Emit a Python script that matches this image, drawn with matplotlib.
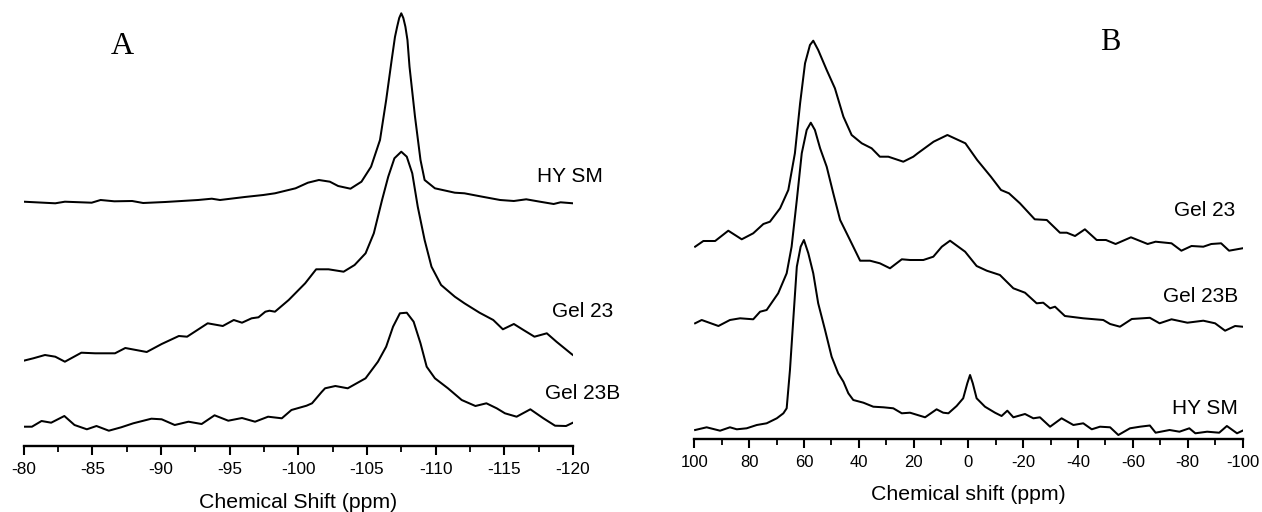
import matplotlib
matplotlib.use("Agg")
import matplotlib.pyplot as plt
from matplotlib.ticker import MultipleLocator

# ---------------- Panel A data (29Si, ppm vs intensity, arbitrary units) ----------------
a_hysm_ppm = [-80.0, -82.3, -83.0, -84.95, -85.6, -86.6, -87.9, -88.7, -90.3, -92.7, -93.7, -94.3,
              -96.1, -97.45, -98.3, -99.8, -100.7, -101.5, -102.3, -102.9, -103.8, -104.6, -105.3,
              -105.95, -106.4, -106.8, -107.04, -107.2, -107.35, -107.5, -107.65, -107.8, -107.95,
              -108.1, -108.5, -108.9, -109.2, -109.95, -111.4, -112.1, -113.4, -114.7, -115.7,
              -116.6, -117.6, -118.6, -119.1, -120.0]
a_hysm_int = [0.3, -1.3, 0.3, -0.7, 2.0, 0.7, 1.0, -1.0, 0.0, 2.0, 3.3, 2.0,
              5.0, 7.0, 8.7, 13.7, 19.3, 22.0, 20.3, 16.0, 13.3, 20.3, 35.3,
              62.0, 102.0, 142.0, 165.0, 175.3, 184.0, 188.7, 184.0, 175.3, 162.0,
              135.3, 85.3, 42.0, 22.0, 13.7, 9.3, 8.7, 5.3, 2.0, 1.0,
              2.7, 0.3, -2.0, -0.3, -1.3]

a_gel23_ppm = [-80.0, -80.7, -81.55, -82.3, -83.0, -84.2, -85.2, -86.65, -87.4, -88.96, -90.05,
               -91.3, -91.9, -93.4, -94.5, -95.3, -95.9, -96.6, -97.1, -97.6, -97.9, -98.3, -99.3,
               -100.5, -101.3, -102.2, -103.3, -104.1, -104.9, -105.5, -106.1, -106.55, -107.0,
               -107.5, -107.9, -108.3, -108.7, -109.2, -109.7, -110.4, -111.4, -112.1, -113.2,
               -114.2, -114.9, -115.7, -116.4, -117.2, -118.1, -118.8, -119.9, -120.0]
a_gel23_int = [-3.7, -1.3, 2.0, 0.3, -4.7, 4.3, 3.7, 3.7, 9.0, 5.0, 13.0,
               21.0, 20.3, 33.7, 31.0, 37.0, 34.3, 38.7, 39.7, 45.3, 46.3, 45.3, 57.0,
               73.7, 87.7, 87.7, 85.3, 92.0, 103.7, 123.7, 157.0, 180.3, 198.7,
               205.3, 200.3, 183.7, 150.3, 117.0, 90.3, 72.0, 60.3, 53.7, 44.3,
               37.0, 27.7, 33.0, 27.0, 20.3, 23.7, 15.3, 3.0, 2.0]

a_gel23b_ppm = [-80.0, -80.6, -81.3, -82.0, -82.96, -83.7, -84.6, -85.3, -86.2, -87.1, -87.98,
                -89.3, -90.05, -91.0, -92.0, -92.96, -93.9, -94.9, -95.9, -96.85, -97.8, -98.8,
                -99.5, -100.6, -101.0, -101.7, -101.95, -102.7, -103.6, -104.9, -105.8, -106.4,
                -106.9, -107.4, -107.9, -108.4, -108.9, -109.35, -109.95, -110.9, -111.9, -112.9,
                -113.7, -114.45, -115.05, -115.9, -116.9, -117.85, -118.7, -119.5, -120.0]
a_gel23b_int = [-1.7, -1.7, 4.0, 2.3, 9.0, 0.0, -4.3, -1.0, -5.7, -2.3, 1.7,
                6.3, 5.7, 0.0, 3.3, 1.0, 9.7, 4.3, 7.0, 3.3, 8.3, 6.7,
                15.0, 19.3, 21.7, 33.0, 36.7, 39.0, 36.7, 46.7, 63.3, 78.3,
                98.3, 111.7, 112.3, 103.3, 81.7, 58.3, 46.7, 36.7, 25.0, 19.0,
                21.7, 16.7, 11.7, 8.3, 15.7, 6.7, -0.7, -1.0, 2.3]

# ---------------- Panel B data (27Al, ppm vs intensity) ----------------
b_gel23_ppm = [99.7, 96.7, 92.4, 87.6, 82.7, 78.5, 74.8, 72.4, 68.7, 65.7, 63.3, 61.4, 59.6,
               57.8, 56.6, 54.8, 51.7, 48.7, 45.6, 42.6, 38.9, 35.3, 32.3, 29.2, 23.75, 20.1,
               18.5, 12.7, 7.66, 1.1, -3.2, -8.2, -11.9, -14.8, -18.8, -24.2, -28.6, -33.4,
               -35.9, -38.9, -42.5, -46.8, -50.2, -53.7, -59.3, -65.4, -68.3, -74.1, -77.7,
               -81.4, -85.7, -88.6, -92.2, -95.1, -100.0]
b_gel23_int = [-3.7, 2.0, 2.0, 12.3, 3.7, 9.7, 19.0, 21.3, 34.7, 53.0, 89.7, 139.7, 179.7,
               198.0, 202.3, 193.0, 173.0, 154.7, 126.3, 108.0, 99.7, 94.7, 86.3, 86.3, 81.3, 86.3,
               89.7, 101.3, 108.0, 99.7, 83.0, 66.3, 53.0, 49.7, 39.7, 23.7, 23.0, 10.3,
               10.3, 7.0, 13.7, 3.0, 3.0, -1.0, 5.7, -1.0, 1.3, -0.3, -7.7,
               -3.0, -3.7, -1.0, -0.3, -7.7, -5.3]

b_gel23b_ppm = [99.7, 97.3, 91.2, 87.0, 83.3, 78.5, 76.0, 73.6, 69.4, 66.3, 64.5, 62.6, 60.8,
                59.0, 57.5, 56.0, 54.1, 51.7, 49.3, 46.8, 43.2, 39.5, 35.9, 32.3, 28.6, 24.3,
                21.3, 16.45, 12.8, 9.7, 6.7, 1.2, -3.0, -6.7, -11.5, -16.4, -20.65, -24.9,
                -27.3, -29.8, -31.6, -35.2, -41.9, -49.2, -51.7, -55.3, -59.6, -66.2, -69.75,
                -74.1, -79.9, -85.7, -90.0, -93.65, -97.3, -100.0]
b_gel23b_int = [-1.3, 2.0, -4.0, 2.0, 3.7, 2.7, 10.3, 12.0, 28.7, 48.7, 75.3, 122.0, 168.7,
                192.0, 199.3, 192.0, 173.7, 155.3, 128.7, 102.0, 82.0, 61.3, 61.3, 58.7, 53.7, 62.7,
                62.0, 62.0, 65.3, 75.3, 81.3, 70.3, 56.0, 51.3, 47.0, 33.7, 29.3, 18.7,
                19.3, 13.7, 15.3, 6.0, 3.7, 2.0, -2.0, -4.7, 3.0, 4.2, -1.3,
                2.7, -0.7, 1.3, -1.3, -8.7, -4.0, -4.7]

b_hysm_ppm = [99.7, 95.5, 90.6, 87.0, 84.5, 80.9, 77.2, 73.6, 69.9, 67.5, 66.3, 65.1, 63.9,
              62.6, 61.2, 60.0, 58.4, 56.6, 54.8, 52.3, 49.9, 47.5, 45.6, 43.8, 42.0, 38.3,
              34.7, 31.0, 27.4, 24.3, 21.3, 15.8, 11.6, 9.2, 7.3, 4.3, 1.9, 0.4, -0.6, -1.6,
              -3.0, -6.05, -9.7, -12.1, -14.2, -16.4, -20.65, -23.7, -26.1, -29.8, -34.0,
              -38.3, -41.9, -45.0, -48.0, -51.7, -54.7, -58.95, -62.6, -66.2, -68.3, -73.4,
              -77.0, -80.6, -82.8, -87.1, -91.5, -94.3, -98.0, -100.0]
b_hysm_int = [-2.0, 0.7, -2.7, 0.7, -1.3, -0.3, 3.0, 4.7, 9.7, 14.7, 19.7, 58.0, 108.0,
              161.3, 181.3, 188.0, 174.7, 154.7, 124.7, 98.0, 71.3, 54.7, 46.3, 34.7, 28.0, 25.3,
              21.3, 20.7, 19.7, 14.7, 15.3, 10.7, 18.7, 15.3, 14.7, 22.0, 29.7, 44.7, 53.0, 44.7,
              29.7, 21.3, 15.3, 12.0, 17.3, 10.7, 14.0, 9.7, 10.7, 1.3, 9.7,
              3.0, 4.7, -1.3, 1.3, 0.7, -7.0, -0.3, 1.3, 2.5, -4.7, -2.0,
              -3.7, -0.3, -5.3, -3.7, -4.7, 2.0, -5.3, -2.7]

a_labels = ["HY SM", "Gel 23", "Gel 23B"]
b_labels = ["Gel 23", "Gel 23B", "HY SM"]
a_xticks = [-80, -85, -90, -95, -100, -105, -110, -115, -120]
b_xticks = [100, 80, 60, 40, 20, 0, -20, -40, -60, -80, -100]

# ---------------- figure ----------------
W, H = 1262, 512
fig = plt.figure(figsize=(W / 100, H / 100), dpi=100)
plt.rcParams['font.family'] = ['Liberation Sans', 'DejaVu Sans']

def add_axes(x0, x1, yaxis):
    return fig.add_axes([x0 / W, (H - yaxis) / H, (x1 - x0) / W, yaxis / H])

axA = add_axes(23.7, 572.9, 445.7)
axB = add_axes(694.3, 1242.5, 439.3)

lw = 1.45
# vertical offsets (stacking of the spectra, in axis units)
offA = {"HY SM": 243.7, "Gel 23": 88.7, "Gel 23B": 20.7}
offB = {"Gel 23": 196.3, "Gel 23B": 117.3, "HY SM": 11.3}

axA.plot(a_hysm_ppm, [v + offA["HY SM"] for v in a_hysm_int], color='black', lw=lw)
axA.plot(a_gel23_ppm, [v + offA["Gel 23"] for v in a_gel23_int], color='black', lw=lw)
axA.plot(a_gel23b_ppm, [v + offA["Gel 23B"] for v in a_gel23b_int], color='black', lw=lw)

axB.plot(b_gel23_ppm, [v + offB["Gel 23"] for v in b_gel23_int], color='black', lw=lw)
axB.plot(b_gel23b_ppm, [v + offB["Gel 23B"] for v in b_gel23b_int], color='black', lw=lw)
axB.plot(b_hysm_ppm, [v + offB["HY SM"] for v in b_hysm_int], color='black', lw=lw)

for ax, ticks, lim, minor, ytop, lsize, pad in ((axA, a_xticks, (-80, -120), 2.5, 445.7, 12.4, 5),
                                                 (axB, b_xticks, (100, -100), 10, 439.3, 12, 4.5)):
    ax.set_xlim(*lim)
    ax.set_ylim(0, ytop)
    ax.set_xticks(ticks)
    ax.set_xticklabels([str(t) for t in ticks])
    ax.xaxis.set_minor_locator(MultipleLocator(minor))
    for s in ('left', 'right', 'top'):
        ax.spines[s].set_visible(False)
    ax.spines['bottom'].set_linewidth(1.7)
    ax.set_yticks([])
    ax.tick_params(axis='x', which='major', direction='out', length=6.5, width=1.5,
                   labelsize=lsize, pad=pad)
    ax.tick_params(axis='x', which='minor', direction='out', length=4.5, width=1.3)
    ax.patch.set_alpha(0)

def ftext(x, y, s, **kw):
    fig.text(x / W, 1 - y / H, s, **kw)

# axis titles
ftext(298.3, 502, "Chemical Shift (ppm)", ha='center', va='center', fontsize=15.3)
ftext(968.4, 495, "Chemical shift (ppm)", ha='center', va='center', fontsize=15.3)

# panel letters
ftext(111, 46, "A", ha='left', va='center', fontsize=23, family='Liberation Serif')
ftext(1100, 42, "B", ha='left', va='center', fontsize=22, family='Liberation Serif')

# spectrum labels
for lab, (x, y) in zip(a_labels, [(536.7, 177), (551.7, 311.5), (545, 393.5)]):
    ftext(x, y, lab, ha='left', va='center', fontsize=15)
for lab, (x, y) in zip(b_labels, [(1173.5, 211), (1163, 296.7), (1171.5, 408.3)]):
    ftext(x, y, lab, ha='left', va='center', fontsize=15)

fig.savefig("out.png", dpi=100)
